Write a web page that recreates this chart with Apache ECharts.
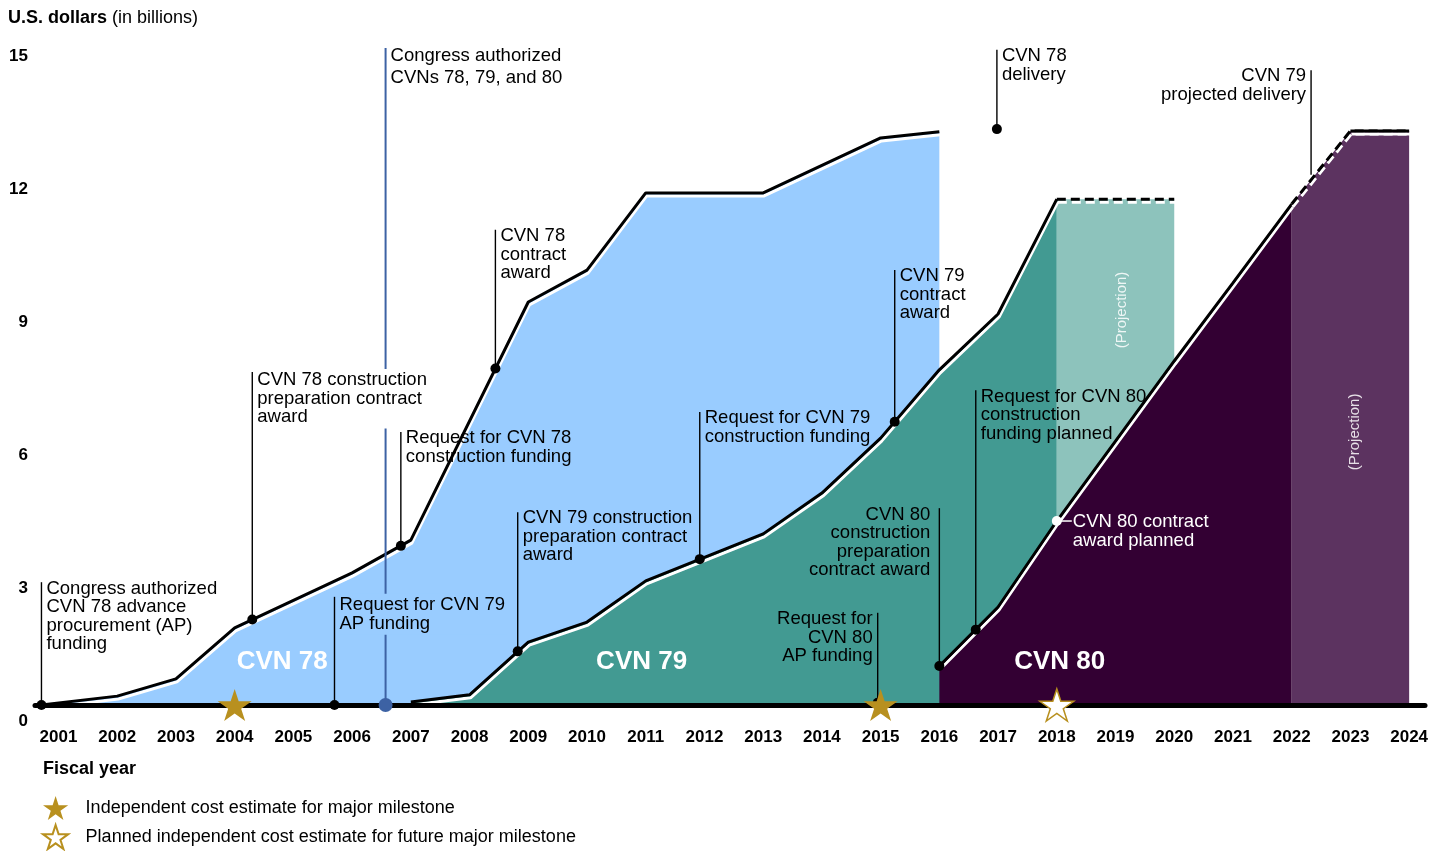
<!DOCTYPE html>
<html>
<head>
<meta charset="utf-8">
<title>Aircraft carrier funding</title>
<script src="https://cdn.jsdelivr.net/npm/echarts@6/dist/echarts.min.js"></script>
<style>
  html, body { margin: 0; padding: 0; background: #fff; }
  #chart { width: 1445px; height: 851px; }
</style>
</head>
<body>
<div id="chart"></div>
<script>
const FONT = 'Liberation Sans, Arial, Helvetica, sans-serif'

// fiscal years on the x axis
const years = [2001, 2002, 2003, 2004, 2005, 2006, 2007, 2008, 2009, 2010, 2011, 2012,
  2013, 2014, 2015, 2016, 2017, 2018, 2019, 2020, 2021, 2022, 2023, 2024]

// cumulative funding, billions of dollars
const cvn78Years = [2000.71, 2002, 2003, 2004, 2006, 2007, 2009, 2010, 2011, 2013, 2015, 2016]
const cvn78Values = [0, 0.2, 0.59, 1.74, 2.98, 3.72, 9.09, 9.81, 11.55, 11.55, 12.79, 12.93]

const cvn79Years = [2007, 2008, 2009, 2010, 2011, 2013, 2014, 2015, 2016, 2017, 2018]
const cvn79Values = [0.07, 0.23, 1.42, 1.87, 2.8, 3.86, 4.78, 6.02, 7.56, 8.82, 11.41]
const cvn79ProjYears = [2018, 2020]
const cvn79ProjValues = [11.41, 11.41]

const cvn80Years = [2016, 2017, 2018, 2019, 2020, 2021, 2022]
const cvn80Values = [0.88, 2.21, 4.15, 5.95, 7.76, 9.52, 11.3]
const cvn80ProjYears = [2022, 2023, 2024]
const cvn80ProjValues = [11.3, 12.95, 12.95]

// milestones: where the dot sits and where the leader line ends
const milestoneYears = [2000.71, 2004.3, 2005.7, 2006.57, 2006.83, 2008.44, 2008.82, 2011.92,
  2014.95, 2015.24, 2016.0, 2016.62, 2016.98, 2022.33, 2018]
const milestoneValues = [0, 1.93, 0, 0, 3.59, 7.59, 1.21, 3.29, 0.05, 6.39, 0.88, 1.7, 12.99, 11.96, 4.15]
const milestoneTops = [2.77, 7.51, 2.44, 14.82, 6.16, 10.72, 4.35, 6.61, 2.08, 9.81, 4.44, 7.1, 14.78, 14.32, 4.15]
const milestoneLabels = [
  'Congress authorized\nCVN 78 advance\nprocurement (AP)\nfunding',
  'CVN 78 construction\npreparation contract\naward',
  'Request for CVN 79\nAP funding',
  'Congress authorized\nCVNs 78, 79, and 80',
  'Request for CVN 78\nconstruction funding',
  'CVN 78\ncontract\naward',
  'CVN 79 construction\npreparation contract\naward',
  'Request for CVN 79\nconstruction funding',
  'Request for\nCVN 80\nAP funding',
  'CVN 79\ncontract\naward',
  'CVN 80\nconstruction\npreparation\ncontract award',
  'Request for CVN 80\nconstruction\nfunding planned',
  'CVN 78\ndelivery',
  'CVN 79\nprojected delivery',
  'CVN 80 contract\naward planned'
]
// which side of the leader line the text sits on
const milestoneSides = ['right', 'right', 'right', 'right', 'right', 'right', 'right', 'right',
  'left', 'right', 'left', 'right', 'right', 'left', 'tick']

// independent cost estimates
const estimateYears = [2004, 2015]
const plannedEstimateYears = [2018]

const areaLabelYears = [2004.81, 2010.93, 2018.05]
const areaLabelValues = [0.97, 0.97, 0.97]
const areaLabels = ['CVN 78', 'CVN 79', 'CVN 80']

const projectionYears = [2019.1, 2023.07]
const projectionValues = [8.91, 6.16]

const BLUE = '#99CCFF'
const TEAL = '#429A92'
const TEAL_LIGHT = '#8DC3BC'
const PLUM = '#330033'
const PLUM_LIGHT = '#5C3360'
const GOLD = '#B8901F'
const MARKER_BLUE = '#3D62A4'

const STAR = 'path://M50,0 L61.23,34.55 L97.55,34.55 L68.17,55.9 L79.39,90.45 L50,69.1 L20.61,90.45 L31.83,55.9 L2.45,34.55 L38.77,34.55 Z'

function pairs(xs, ys) {
  return xs.map((x, i) => [x, ys[i]])
}

function fundingSeries(xs, ys, fill, dashed) {
  const s = {
    type: 'line',
    data: pairs(xs, ys),
    symbol: 'none',
    silent: true,
    z: 2,
    lineStyle: {
      color: '#000',
      width: 3,
      type: dashed ? [9, 5] : 'solid',
      shadowColor: '#fff',
      shadowBlur: 0,
      shadowOffsetX: 1,
      shadowOffsetY: 3
    }
  }
  if (fill) s.areaStyle = { color: fill, opacity: 1 }
  return s
}

function textStyle(text, x, y, align, extra) {
  return Object.assign({
    text: text, x: x, y: y,
    fill: '#000',
    fontSize: 18.5,
    fontFamily: FONT,
    lineHeight: 18.5,
    align: align, textAlign: align,
    verticalAlign: 'top', textVerticalAlign: 'top'
  }, extra || {})
}

function renderMilestone(params, api) {
  const i = params.dataIndex
  const dot = api.coord([api.value(0), api.value(1)])
  const top = api.coord([api.value(0), api.value(2)])
  const side = milestoneSides[i]
  const label = milestoneLabels[i]
  const children = []

  if (side === 'tick') {
    children.push({ type: 'line', z2: 1, shape: { x1: dot[0], y1: dot[1], x2: dot[0] + 15, y2: dot[1] },
      style: { stroke: '#fff', lineWidth: 1.5 } })
    children.push({ type: 'circle', z2: 2, shape: { cx: dot[0], cy: dot[1], r: 5 }, style: { fill: '#fff' } })
    children.push({ type: 'text', z2: 10, style: textStyle(label, dot[0] + 16, dot[1] - 8, 'left', { fill: '#fff' }) })
    return { type: 'group', children: children }
  }

  const congress = i === 3
  const color = congress ? MARKER_BLUE : '#000'
  children.push({ type: 'line', z2: 1, shape: { x1: dot[0], y1: dot[1], x2: top[0], y2: top[1] },
    style: { stroke: color, lineWidth: congress ? 2 : 1.4 } })
  if (i !== 13) {
    children.push({ type: 'circle', z2: 2, shape: { cx: dot[0], cy: dot[1], r: congress ? 7 : 5 },
      style: { fill: color } })
  }
  const extra = {}
  if (congress) extra.lineHeight = 22
  if (i === 1) { extra.backgroundColor = '#fff'; extra.padding = [2, 2, 2, 0] }
  if (i === 2) { extra.backgroundColor = BLUE; extra.padding = [2, 2, 2, 0] }
  const onRight = side === 'right'
  const tx = onRight ? top[0] + 5 : top[0] - (i === 10 ? 9 : 5)
  children.push({ type: 'text', z2: 10, style: textStyle(label, tx, top[1] - 3, onRight ? 'left' : 'right', extra) })
  return { type: 'group', children: children }
}

function renderAreaLabel(params, api) {
  const p = api.coord([api.value(0), api.value(1)])
  return {
    type: 'text',
    style: {
      text: areaLabels[params.dataIndex], x: p[0], y: p[1],
      fill: '#fff', fontSize: 26, fontWeight: 'bold', fontFamily: FONT,
      align: 'center', textAlign: 'center', verticalAlign: 'middle', textVerticalAlign: 'middle'
    }
  }
}

function renderProjection(params, api) {
  const p = api.coord([api.value(0), api.value(1)])
  return {
    type: 'text',
    x: p[0], y: p[1], rotation: Math.PI / 2,
    style: {
      text: '(Projection)', x: 0, y: 0,
      fill: 'rgba(255,255,255,0.85)', fontSize: 15, fontFamily: FONT,
      align: 'center', textAlign: 'center', verticalAlign: 'middle', textVerticalAlign: 'middle'
    }
  }
}

const chart = echarts.init(document.getElementById('chart'))

chart.setOption({
  animation: false,
  backgroundColor: '#fff',
  textStyle: { fontFamily: FONT },
  grid: { left: 35, right: 20, top: 40, bottom: 146, containLabel: false },
  xAxis: {
    type: 'value',
    min: 2000.6,
    max: 2024.27,
    z: 3,
    axisLine: { show: true, lineStyle: { color: '#000', width: 5 } },
    axisTick: { show: false },
    splitLine: { show: false },
    axisLabel: {
      customValues: years,
      formatter: v => String(v),
      fontSize: 17,
      fontWeight: 'bold',
      color: '#000',
      margin: 24,
      fontFamily: FONT
    }
  },
  yAxis: {
    type: 'value',
    min: 0,
    max: 15,
    interval: 3,
    axisLine: { show: false },
    axisTick: { show: false },
    splitLine: { show: false },
    axisLabel: {
      fontSize: 17,
      fontWeight: 'bold',
      color: '#000',
      margin: 7,
      verticalAlign: 'top',
      padding: [8, 0, 0, 0],
      fontFamily: FONT
    }
  },
  legend: {
    orient: 'vertical',
    left: 42,
    top: 796,
    height: 55,
    padding: 0,
    itemWidth: 26,
    itemHeight: 24,
    itemGap: 4,
    selectedMode: false,
    data: ['Independent cost estimate for major milestone',
      'Planned independent cost estimate for future major milestone'],
    textStyle: { fontSize: 18, color: '#000', fontFamily: FONT, padding: [0, 0, 0, 12] }
  },
  graphic: [
    {
      type: 'text', left: 8, top: 9,
      style: {
        text: '{b|U.S. dollars} (in billions)',
        fontSize: 18, fontFamily: FONT, fill: '#000',
        rich: { b: { fontWeight: 'bold', fontSize: 18, fontFamily: FONT } }
      }
    },
    {
      type: 'text', left: 43, top: 760,
      style: { text: 'Fiscal year', fontSize: 18, fontWeight: 'bold', fontFamily: FONT, fill: '#000' }
    }
  ],
  series: [
    fundingSeries(cvn78Years, cvn78Values, BLUE, false),
    fundingSeries(cvn79Years, cvn79Values, TEAL, false),
    fundingSeries(cvn79ProjYears, cvn79ProjValues, TEAL_LIGHT, true),
    fundingSeries(cvn80Years, cvn80Values, PLUM, false),
    fundingSeries(cvn80ProjYears, cvn80ProjValues, PLUM_LIGHT, true),
    fundingSeries(cvn80ProjYears.slice(1), cvn80ProjValues.slice(1), null, false),
    {
      type: 'custom',
      z: 4,
      silent: true,
      renderItem: renderAreaLabel,
      data: pairs(areaLabelYears, areaLabelValues)
    },
    {
      type: 'custom',
      z: 4,
      silent: true,
      renderItem: renderProjection,
      data: pairs(projectionYears, projectionValues)
    },
    {
      type: 'custom',
      z: 5,
      silent: true,
      renderItem: renderMilestone,
      data: milestoneYears.map((x, i) => [x, milestoneValues[i], milestoneTops[i]])
    },
    {
      name: 'Independent cost estimate for major milestone',
      type: 'scatter',
      z: 6,
      symbol: STAR,
      symbolSize: [34, 32],
      itemStyle: { color: GOLD, opacity: 1 },
      data: estimateYears.map(x => [x, 0])
    },
    {
      name: 'Planned independent cost estimate for future major milestone',
      type: 'scatter',
      z: 6,
      symbol: STAR,
      symbolSize: [34, 32],
      itemStyle: { color: '#fff', borderColor: GOLD, borderWidth: 1.5, opacity: 1 },
      data: plannedEstimateYears.map(x => [x, 0])
    }
  ]
})
</script>
</body>
</html>
